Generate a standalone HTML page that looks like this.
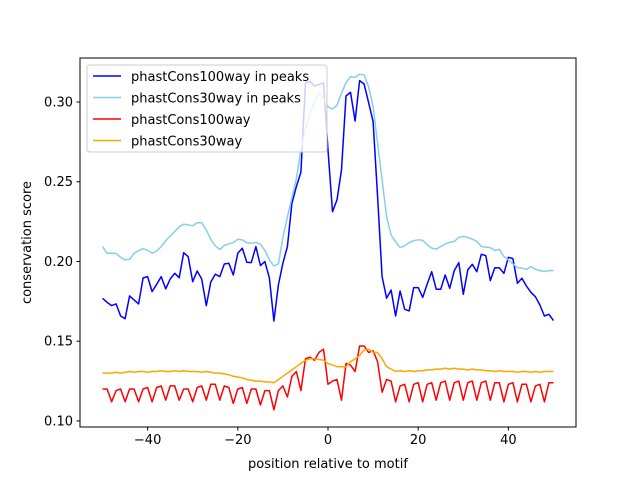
<!DOCTYPE html>
<html><head><meta charset="utf-8"><style>
body{margin:0;background:#fff;font-family:"Liberation Sans","DejaVu Sans",sans-serif;}
svg text{font-family:"DejaVu Sans","Liberation Sans",sans-serif;font-size:13px;fill:#000;}
</style></head><body>
<svg id="chart" width="640" height="480"></svg>
<script>
const xs=[];for(let i=-50;i<=50;i++)xs.push(i);
const blue=[0.1769,0.1744,0.1723,0.1734,0.1658,0.1641,0.1784,0.1759,0.1734,0.1897,0.1905,0.1811,0.1857,0.1905,0.1828,0.1890,0.1926,0.1898,0.2055,0.2030,0.1873,0.1940,0.1890,0.1723,0.1871,0.1920,0.1905,0.1984,0.1989,0.1915,0.2051,0.2083,0.1995,0.1993,0.2093,0.1974,0.1999,0.1895,0.1627,0.1853,0.1989,0.2093,0.2365,0.247,0.256,0.312,0.313,0.310,0.311,0.312,0.27,0.2312,0.2386,0.2574,0.3038,0.3061,0.2881,0.3134,0.3113,0.2996,0.2877,0.2406,0.1905,0.177,0.1821,0.1658,0.1815,0.17,0.169,0.1836,0.1836,0.1775,0.1859,0.1936,0.1826,0.1826,0.1915,0.1832,0.1943,0.1993,0.1794,0.1947,0.1982,0.1936,0.2045,0.2037,0.188,0.1961,0.196,0.1926,0.2026,0.2018,0.1863,0.1895,0.1846,0.1807,0.1779,0.1727,0.1658,0.1669,0.1629];
const sky=[0.2093,0.2051,0.2051,0.205,0.2026,0.2009,0.2013,0.2051,0.2068,0.208,0.207,0.2051,0.2066,0.2093,0.2129,0.216,0.2187,0.2218,0.2233,0.223,0.2224,0.2243,0.2243,0.2197,0.2139,0.2097,0.2076,0.21,0.211,0.2118,0.2139,0.2135,0.2118,0.2114,0.212,0.2108,0.207,0.2009,0.1972,0.1985,0.215,0.228,0.240,0.252,0.270,0.283,0.293,0.300,0.3055,0.302,0.297,0.2956,0.298,0.3055,0.3121,0.3159,0.3155,0.3174,0.317,0.3096,0.2971,0.2741,0.2511,0.2281,0.2166,0.2124,0.2087,0.2098,0.2119,0.213,0.2136,0.2132,0.2105,0.2084,0.2077,0.2094,0.2109,0.2121,0.2126,0.2151,0.2157,0.2151,0.214,0.2126,0.2094,0.209,0.2087,0.2068,0.2077,0.2031,0.201,0.1985,0.1962,0.1958,0.1951,0.1968,0.1951,0.1943,0.1937,0.1943,0.1943];
const red=[0.120,0.120,0.112,0.119,0.120,0.112,0.120,0.120,0.112,0.120,0.121,0.112,0.121,0.122,0.113,0.122,0.122,0.113,0.120,0.120,0.112,0.121,0.122,0.113,0.123,0.123,0.113,0.122,0.121,0.111,0.120,0.121,0.111,0.120,0.120,0.110,0.119,0.119,0.107,0.119,0.122,0.115,0.128,0.131,0.119,0.139,0.140,0.138,0.143,0.145,0.123,0.125,0.126,0.113,0.136,0.135,0.131,0.147,0.147,0.143,0.144,0.137,0.118,0.126,0.125,0.112,0.122,0.123,0.112,0.123,0.124,0.112,0.123,0.124,0.113,0.124,0.125,0.113,0.124,0.125,0.113,0.124,0.125,0.113,0.124,0.125,0.113,0.124,0.124,0.112,0.123,0.124,0.112,0.123,0.123,0.112,0.122,0.123,0.112,0.124,0.124];
const orange=[0.130,0.130,0.130,0.1305,0.130,0.1305,0.131,0.1305,0.131,0.131,0.1305,0.131,0.131,0.1315,0.131,0.131,0.1315,0.131,0.1315,0.131,0.131,0.131,0.1305,0.131,0.1305,0.130,0.130,0.1295,0.129,0.128,0.1275,0.127,0.126,0.1255,0.125,0.125,0.1245,0.1245,0.124,0.126,0.128,0.130,0.132,0.134,0.136,0.138,0.139,0.139,0.1385,0.138,0.136,0.135,0.134,0.134,0.134,0.137,0.139,0.141,0.1445,0.145,0.143,0.143,0.139,0.134,0.1325,0.131,0.1315,0.131,0.1315,0.131,0.1315,0.1315,0.132,0.132,0.1325,0.1325,0.133,0.1325,0.133,0.1325,0.1325,0.132,0.1325,0.132,0.132,0.1315,0.1315,0.131,0.1315,0.131,0.131,0.131,0.1305,0.131,0.131,0.1305,0.131,0.1305,0.131,0.131,0.131];
const xTicks=[-40,-20,0,20,40];
const yTicks=[0.10,0.15,0.20,0.25,0.30];
const L=80,R=576,T=58,B=427;
const xmin=-55,xmax=55,ymin=0.0962,ymax=0.3276;
const X=v=>L+(v-xmin)/(xmax-xmin)*(R-L);
const Y=v=>B-(v-ymin)/(ymax-ymin)*(B-T);
const svg=document.getElementById('chart');const NS='http://www.w3.org/2000/svg';
function mk(tag,at,txt){const e=document.createElementNS(NS,tag);for(const k in at)e.setAttribute(k,at[k]);if(txt!==undefined)e.textContent=txt;svg.appendChild(e);return e;}
const series=[[blue,'#0000ff','phastCons100way in peaks','series-phastcons100way-peaks'],[sky,'#87ceeb','phastCons30way in peaks','series-phastcons30way-peaks'],[red,'#ff0000','phastCons100way','series-phastcons100way'],[orange,'#ffa500','phastCons30way','series-phastcons30way']];
series.forEach(s=>{const p=mk('polyline',{points:xs.map((x,i)=>X(x).toFixed(1)+','+Y(s[0][i]).toFixed(1)).join(' '),fill:'none',stroke:s[1],'stroke-width':1.5,'stroke-linejoin':'round'});

});
const fr=mk('rect',{x:L,y:T,width:R-L,height:B-T,fill:'none',stroke:'#000','stroke-width':1});


xTicks.forEach(t=>{mk('line',{x1:X(t),x2:X(t),y1:B,y2:B+3.5,stroke:'#000'});const tx=mk('text',{x:X(t),y:B+17,'text-anchor':'middle'},t<0?'\u2212'+(-t):String(t));

});
yTicks.forEach(t=>{mk('line',{x1:L-3.5,x2:L,y1:Y(t),y2:Y(t),stroke:'#000'});const tx=mk('text',{x:L-7,y:Y(t)+4.5,'text-anchor':'end'},t.toFixed(2));

});
const xl=mk('text',{x:(L+R)/2,y:468,'text-anchor':'middle'},'position relative to motif');


const yl=mk('text',{x:0,y:0,'text-anchor':'middle',transform:'translate(31,'+((T+B)/2)+') rotate(-90)'},'conservation score');


const lg=mk('rect',{x:87,y:65,width:240,height:87,rx:3,fill:'#fff','fill-opacity':0.8,stroke:'#ccc'});


series.forEach((s,i)=>{const y=76+i*21.5;mk('line',{x1:93,x2:121,y1:y,y2:y,stroke:s[1],'stroke-width':1.5});const t=mk('text',{x:131,y:y+5},s[2]);

});
</script>
</body></html>
